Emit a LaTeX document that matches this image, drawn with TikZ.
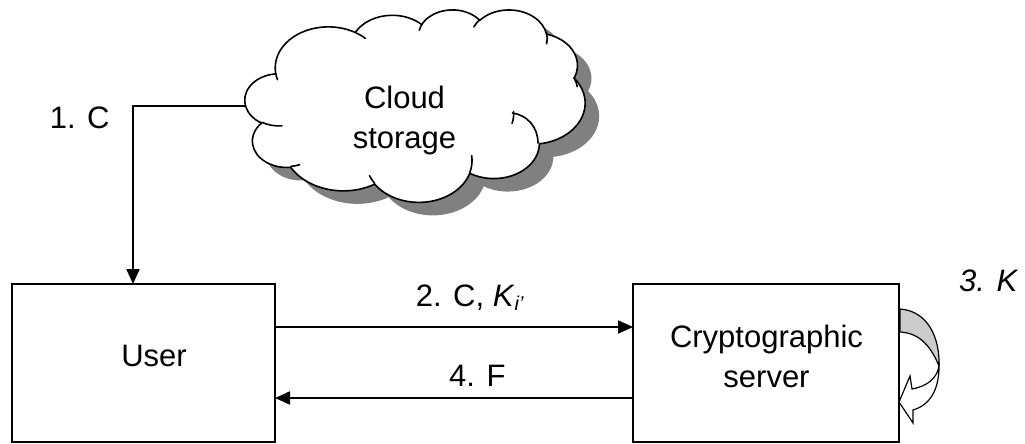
\documentclass[tikz,border=0pt]{standalone}
\usepackage{fontspec}
\setmainfont{Liberation Sans}
\usetikzlibrary{arrows.meta}

% elliptical arc given as radii, start angle and sweep (angles measured visually)
\tikzset{
  ooarc/.code args={#1/#2/#3/#4}{%
    \pgfmathsetmacro\arcT{atan2((#1)*sin(#3),(#2)*cos(#3))}%
    \pgfmathsetmacro\arcU{atan2((#1)*sin((#3)+(#4)),(#2)*cos((#3)+(#4)))}%
    \pgfmathsetmacro\arcD{(#4)<0 ? mod(\arcU-\arcT+720,360)-360 : mod(\arcU-\arcT+720,360)}%
    \edef\arcnext{\noexpand\pgfkeysalso{start angle=\arcT, delta angle=\arcD, x radius=#1, y radius=#2}}%
    \arcnext},
  box/.style={draw, line width=2pt, inner sep=0pt, outer sep=0pt},
  txt/.style={inner sep=0pt, font=\fontsize{31}{40}\selectfont},
  conn/.style={line width=2pt, -{Triangle[length=15pt,width=13pt]}},
  cloudline/.style={line width=1.6pt, line join=round, line cap=round},
}

% outline of the cloud in a 432 x 432 frame
\newcommand\cloudoutline{(39.00,143.70)
  arc[ooarc=67.53/91.90/-190.4875/123.7805]
  arc[ooarc=53.33/72.67/-144.1024/89.9452]
  arc[ooarc=43.65/59.45/-145.8079/99.7230]
  arc[ooarc=48.57/65.95/-130.9861/117.2417]
  arc[ooarc=53.33/72.73/-78.7089/109.0269]
  arc[ooarc=67.75/92.20/-46.2673/130.2690]
  arc[ooarc=57.85/78.67/0.6250/114.0333]
  arc[ooarc=67.52/92.15/22.4516/115.1726]
  arc[ooarc=77.20/105.43/66.2426/75.7110]
  arc[ooarc=43.60/59.18/-274.9421/146.7356]
  arc[ooarc=43.45/59.45/-246.8285/152.5189]
  -- cycle}

\begin{document}
\begin{tikzpicture}[x=1pt, y=-1pt]
\useasboundingbox (0,0) rectangle (1025,444);

% cloud: shadow, body and inner folds
\begin{scope}[shift={(259,22.3)}, x=0.78704pt, y=-0.44537pt]
  \fill[gray] \cloudoutline;
\end{scope}
\begin{scope}[shift={(245,9.3)}, x=0.78704pt, y=-0.44537pt]
  \filldraw[cloudline, fill=white] \cloudoutline;
  \draw[cloudline]
    (46.93,261.77) arc[ooarc=43.45/59.45/86.742/26.4295]
    (69.28,348.99) arc[ooarc=43.60/59.18/73.6105/11.4475]
    (164.78,390.90) arc[ooarc=67.52/92.15/137.6242/14.0811]
    (288.27,347.51) arc[ooarc=67.52/92.15/6.4533/15.9984]
                    arc[ooarc=67.52/92.15/22.4517/-32]
    (341.29,229.54) arc[ooarc=57.85/78.67/-5.3208/26.1718]
    (417.98,153.54) arc[ooarc=53.33/72.73/-31.2806/21.1818]
    (383.24,54.26) arc[ooarc=48.57/65.95/-13.7365/27.3594]
    (290.78,39.52) arc[ooarc=48.57/65.95/-149.1815/18.1932]
    (221.41,47.20) arc[ooarc=43.65/59.45/-163.4943/17.6874]
    (140.00,51.92) arc[ooarc=67.53/91.90/-66.7070/12.3194]
    (41.27,157.89) arc[ooarc=67.53/91.90/157.6544/11.8582];
\end{scope}
\coordinate (foldA) at (512.5,113);
\coordinate (foldB) at (538,143);
\draw[cloudline] (foldA) .. controls (527,115) and (538,127) .. (foldB);
\coordinate (cloudW) at (246,106);
\node[txt, align=center, anchor=base] (cloudtext) at (404.5,148.8) {Cloud\\storage};

% boxes
\node[box, minimum width=263.5pt, minimum height=158pt] (user) at (143.25,363) {};
\node[box, minimum width=266pt, minimum height=158pt] (crypto) at (766,363) {};
\node[txt, anchor=base] (usertext) at (154,366.7) {User};
\node[txt, align=center, anchor=base] (cryptotext) at (766.5,387.3) {Cryptographic\\server};

% messages
\draw[conn] (cloudW) -| ([xshift=-10.25pt]user.north);
\draw[conn] ([yshift=36pt]user.east) -- ([yshift=36pt]crypto.west);
\draw[conn] ([yshift=-35pt]crypto.west) -- ([yshift=-35pt]user.east);

\node[txt, anchor=base west] (m1) at (49.6,128) {1. C};
\node[txt, anchor=base west] (m2) at (415.7,306.7)
  {2. C, \textit{K}\raisebox{-3.5pt}{\fontsize{20}{20}\selectfont\itshape i’}};
\node[txt, anchor=base west] (m4) at (449,386) {4. F};
\node[txt, anchor=base west] (m3) at (959,291.7) {\itshape 3. K};

% loop arrow on the server
\filldraw[line width=1.2pt, fill=gray!40, line join=round]
  (900,309) .. controls (928,311) and (940,338) .. (939,366)
  .. controls (930,344) and (918,333) .. (900,332) -- cycle;
\filldraw[line width=1.2pt, fill=white, line join=miter]
  (939,366) .. controls (937,378) and (928,386) .. (912,389)
  -- (910,376) -- (899,402) -- (913,423) -- (913,410)
  .. controls (930,405) and (939,390) .. (939,366) -- cycle;
\end{tikzpicture}
\end{document}
